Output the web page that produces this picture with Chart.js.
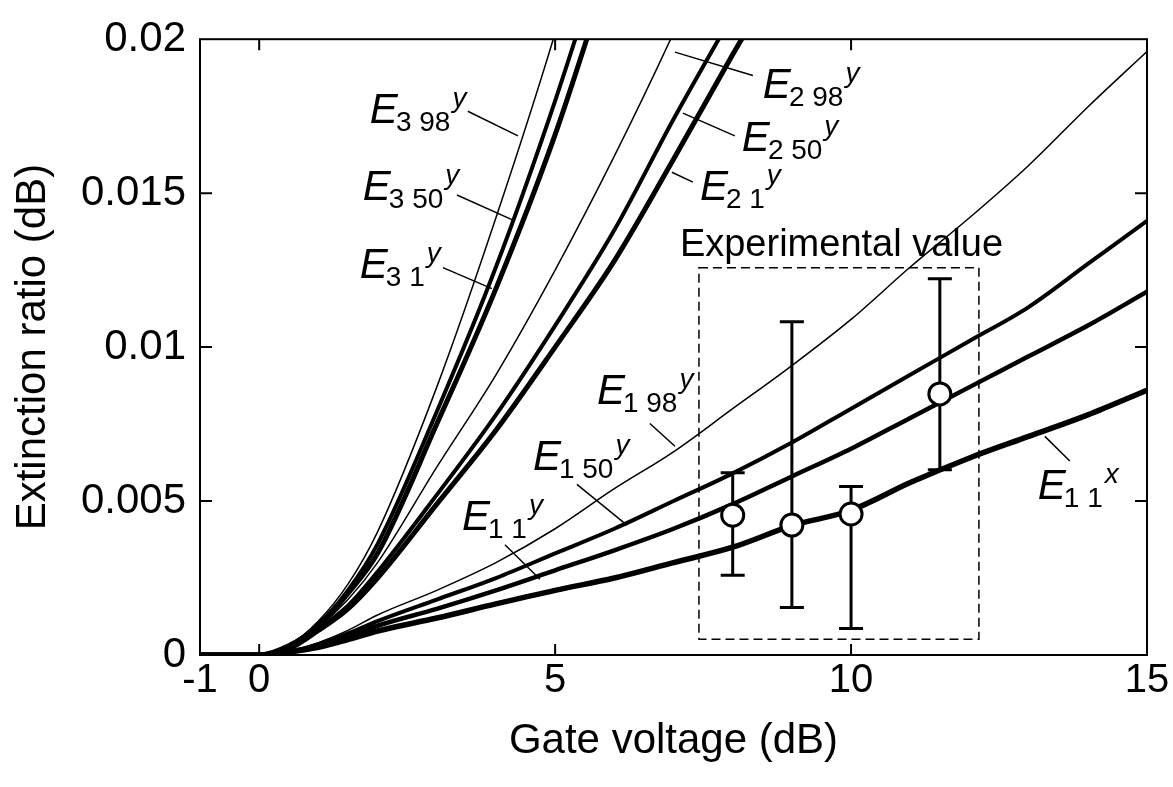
<!DOCTYPE html>
<html>
<head>
<meta charset="utf-8">
<script src="https://cdn.jsdelivr.net/npm/chart.js@4.4.1/dist/chart.umd.min.js"></script>
<style>
  html, body { margin: 0; padding: 0; background: #fff; }
  #wrap { width: 1173px; height: 787px; }
</style>
</head>
<body>
<div id="wrap"><canvas id="chart" width="1173" height="787"></canvas></div>
<script>
// gate voltage grid (dB) shared by all simulated curves
const XS = [-1, 0, 0.5, 1, 1.5, 2, 3, 4, 5, 6, 7, 8, 9, 10, 11, 12, 13, 14, 15];

// extinction ratio (dB) per curve
const E3_98Y = [0, 0, 0.0003, 0.0011, 0.0023, 0.0040, 0.0087, 0.0142, 0.0202, 0.0270, null, null, null, null, null, null, null, null, null];
const E3_50Y = [0, 0, 0.0003, 0.0010, 0.0021, 0.0036, 0.0079, 0.0126, 0.0180, 0.0240, null, null, null, null, null, null, null, null, null];
const E3_1Y  = [0, 0, 0.0003, 0.00095, 0.0020, 0.0033, 0.0075, 0.0119, 0.0169, 0.0228, null, null, null, null, null, null, null, null, null];
const E2_98Y = [0, 0, 0.00025, 0.0009, 0.0018, 0.0030, 0.0061, 0.0091, 0.0125, 0.0162, 0.0202, 0.0245, null, null, null, null, null, null, null];
const E2_50Y = [0, 0, 0.00025, 0.00085, 0.0016, 0.0027, 0.0052, 0.0078, 0.0107, 0.0138, 0.0174, 0.0208, null, null, null, null, null, null, null];
const E2_1Y  = [0, 0, 0.0002, 0.0008, 0.0015, 0.0025, 0.0049, 0.0073, 0.0100, 0.0128, 0.0161, 0.0195, 0.0228, null, null, null, null, null, null];
const E1_98Y = [0, 0, 0.0001, 0.0004, 0.0008, 0.0013, 0.0021, 0.0030, 0.0041, 0.0054, 0.0066, 0.0080, 0.0094, 0.0109, 0.0126, 0.0142, 0.0159, 0.0178, 0.0196];
const E1_50Y = [0, 0, 0.0001, 0.00035, 0.0007, 0.0011, 0.0018, 0.0025, 0.0033, 0.0041, 0.0050, 0.0059, 0.0069, 0.0080, 0.0091, 0.0102, 0.0113, 0.0127, 0.0141];
const E1_1Y  = [0, 0, 0.0001, 0.0003, 0.0006, 0.00095, 0.0015, 0.0021, 0.00275, 0.0034, 0.0041, 0.0049, 0.0058, 0.0067, 0.0077, 0.0087, 0.0097, 0.0107, 0.0118];
const E1_1X  = [0, 0, 0.0001, 0.00025, 0.0005, 0.00078, 0.0012, 0.00166, 0.0021, 0.0025, 0.0030, 0.0035, 0.0042, 0.0047, 0.0056, 0.0064, 0.0071, 0.0078, 0.0086];

// measured values with error bars
const EXP_X    = [8, 9, 10, 11.5];
const EXP_Y    = [0.00454, 0.00422, 0.00458, 0.00848];
const EXP_LOW  = [0.00259, 0.00154, 0.00086, 0.00602];
const EXP_HIGH = [0.00592, 0.01082, 0.00547, 0.01222];

// dashed frame round the measurements: [x0, x1], [y0, y1]
const BOX_X = [7.43, 12.16];
const BOX_Y = [0.00051, 0.01258];

const X_TICKS = [-1, 0, 5, 10, 15];
const Y_TICKS = [0, 0.005, 0.01, 0.015, 0.02];
const Y_TICK_LABELS = ['0', '0.005', '0.01', '0.015', '0.02'];

// curve labels: text anchor and leader line, all in data units
const LABELS = [
  { sub: '3 98', sup: 'y', x: 1.87,  y: 0.01728,  from: [3.525, 0.01766], to: [4.372, 0.01686] },
  { sub: '3 50', sup: 'y', x: 1.75,  y: 0.01478,  from: [3.341, 0.01494], to: [4.27, 0.01414] },
  { sub: '3 1',  sup: 'y', x: 1.70,  y: 0.01226,  from: [3.105, 0.01258], to: [3.932, 0.01190] },
  { sub: '2 98', sup: 'y', x: 8.51,  y: 0.01808,  from: [8.341, 0.01882], to: [7.024, 0.01958] },
  { sub: '2 50', sup: 'y', x: 8.155, y: 0.01638,  from: [8.037, 0.01686], to: [7.159, 0.0176] },
  { sub: '2 1',  sup: 'y', x: 7.446, y: 0.01478,  from: [7.328, 0.01536], to: [6.973, 0.01568] },
  { sub: '1 98', sup: 'y', x: 5.706, y: 0.00816,  from: [6.601, 0.00752], to: [7.024, 0.00678] },
  { sub: '1 50', sup: 'y', x: 4.625, y: 0.00602,  from: [5.368, 0.00554], to: [6.213, 0.00422] },
  { sub: '1 1',  sup: 'y', x: 3.426, y: 0.00406,  from: [4.152, 0.00358], to: [4.743, 0.00246] },
  { sub: '1 1',  sup: 'x', x: 13.155, y: 0.00506, from: [13.696, 0.0063], to: [13.274, 0.0071] }
];
const NOTE = { text: 'Experimental value', x: 7.108, y: 0.01296 };

const FONT = '"Liberation Sans", Arial, Helvetica, sans-serif';

function curve(ys, width) {
  return {
    type: 'line',
    data: XS.map((x, i) => ({ x: x, y: ys[i] })),
    borderColor: '#000',
    borderWidth: width,
    pointRadius: 0,
    cubicInterpolationMode: 'monotone',
    spanGaps: false,
    order: 2
  };
}

const decor = {
  id: 'decor',
  beforeDatasetsDraw(chart) {
    const { ctx, scales: { x, y } } = chart;
    ctx.save();
    ctx.strokeStyle = '#000';
    ctx.lineWidth = 1.5;
    ctx.setLineDash([9, 5]);
    const l = x.getPixelForValue(BOX_X[0]), r = x.getPixelForValue(BOX_X[1]);
    const t = y.getPixelForValue(BOX_Y[1]), b = y.getPixelForValue(BOX_Y[0]);
    ctx.strokeRect(l, t, r - l, b - t);
    ctx.setLineDash([]);

    ctx.lineWidth = 3;
    EXP_X.forEach((v, i) => {
      const px = x.getPixelForValue(v);
      const lo = y.getPixelForValue(EXP_LOW[i]);
      const hi = y.getPixelForValue(EXP_HIGH[i]);
      ctx.beginPath();
      ctx.moveTo(px, lo); ctx.lineTo(px, hi);
      ctx.moveTo(px - 12, lo); ctx.lineTo(px + 12, lo);
      ctx.moveTo(px - 12, hi); ctx.lineTo(px + 12, hi);
      ctx.stroke();
    });
    ctx.restore();
  },
  afterDatasetsDraw(chart) {
    const { ctx, scales: { x, y } } = chart;
    ctx.save();
    ctx.fillStyle = '#000';
    ctx.strokeStyle = '#000';
    ctx.textBaseline = 'alphabetic';
    ctx.textAlign = 'left';
    LABELS.forEach(lb => {
      const px = x.getPixelForValue(lb.x);
      const py = y.getPixelForValue(lb.y);
      ctx.font = 'italic 42px ' + FONT;
      ctx.fillText('E', px, py);
      const we = ctx.measureText('E').width;
      ctx.font = '28px ' + FONT;
      ctx.fillText(lb.sub, px + we - 2, py + 8);
      const ws = ctx.measureText(lb.sub).width;
      ctx.font = 'italic 28px ' + FONT;
      ctx.fillText(lb.sup, px + we + ws, py - 16);

      ctx.lineWidth = 1.5;
      ctx.beginPath();
      ctx.moveTo(x.getPixelForValue(lb.from[0]), y.getPixelForValue(lb.from[1]));
      ctx.lineTo(x.getPixelForValue(lb.to[0]), y.getPixelForValue(lb.to[1]));
      ctx.stroke();
    });
    ctx.font = '38px ' + FONT;
    ctx.fillText(NOTE.text, x.getPixelForValue(NOTE.x), y.getPixelForValue(NOTE.y));
    ctx.restore();
  },
  afterDraw(chart) {
    const { ctx, chartArea: a, scales: { x, y } } = chart;
    ctx.save();
    ctx.strokeStyle = '#000';
    ctx.lineWidth = 2;
    ctx.strokeRect(a.left, a.top, a.right - a.left, a.bottom - a.top);
    ctx.beginPath();
    X_TICKS.slice(1, -1).forEach(v => {
      const px = x.getPixelForValue(v);
      ctx.moveTo(px, a.bottom); ctx.lineTo(px, a.bottom - 11);
      ctx.moveTo(px, a.top); ctx.lineTo(px, a.top + 11);
    });
    Y_TICKS.slice(1, -1).forEach(v => {
      const py = y.getPixelForValue(v);
      ctx.moveTo(a.left, py); ctx.lineTo(a.left + 12, py);
      ctx.moveTo(a.right, py); ctx.lineTo(a.right - 12, py);
    });
    ctx.stroke();
    ctx.restore();
  }
};

const datasets = [
  {
    type: 'scatter',
    data: EXP_X.map((v, i) => ({ x: v, y: EXP_Y[i] })),
    pointRadius: 11,
    pointBackgroundColor: '#fff',
    pointBorderColor: '#000',
    pointBorderWidth: 3,
    order: 0
  },
  curve(E3_98Y, 1.5), curve(E3_50Y, 4), curve(E3_1Y, 5),
  curve(E2_98Y, 1.5), curve(E2_50Y, 4), curve(E2_1Y, 5),
  curve(E1_98Y, 1.5), curve(E1_50Y, 4), curve(E1_1Y, 4.5), curve(E1_1X, 5.5)
];

new Chart(document.getElementById('chart'), {
  data: { datasets: datasets },
  options: {
    responsive: false,
    animation: false,
    devicePixelRatio: 1,
    layout: { padding: { top: 30, right: 26, left: 0, bottom: 0 } },
    plugins: { legend: { display: false }, tooltip: { enabled: false } },
    scales: {
      x: {
        type: 'linear',
        min: -1,
        max: 15,
        grid: { display: false, drawTicks: false },
        border: { display: false },
        afterBuildTicks: s => { s.ticks = X_TICKS.map(v => ({ value: v })); },
        afterFit: s => { s.height = 132; },
        ticks: {
          color: '#000',
          padding: 2,
          font: { family: FONT, size: 40 },
          maxRotation: 0,
          autoSkip: false,
          callback: v => String(v)
        },
        title: {
          display: true,
          text: 'Gate voltage (dB)',
          color: '#000',
          font: { family: FONT, size: 42 },
          padding: { top: 0, bottom: 20 }
        }
      },
      y: {
        type: 'linear',
        min: 0,
        max: 0.02,
        grid: { display: false, drawTicks: false },
        border: { display: false },
        afterBuildTicks: s => { s.ticks = Y_TICKS.map(v => ({ value: v })); },
        afterFit: s => { s.width = 200; },
        ticks: {
          color: '#000',
          padding: 14,
          font: { family: FONT, size: 42 },
          autoSkip: false,
          callback: (v, i) => Y_TICK_LABELS[i]
        },
        title: {
          display: true,
          text: 'Extinction ratio (dB)',
          color: '#000',
          font: { family: FONT, size: 42 },
          padding: { top: 8, bottom: 0 }
        }
      }
    }
  },
  plugins: [decor]
});
</script>
</body>
</html>
